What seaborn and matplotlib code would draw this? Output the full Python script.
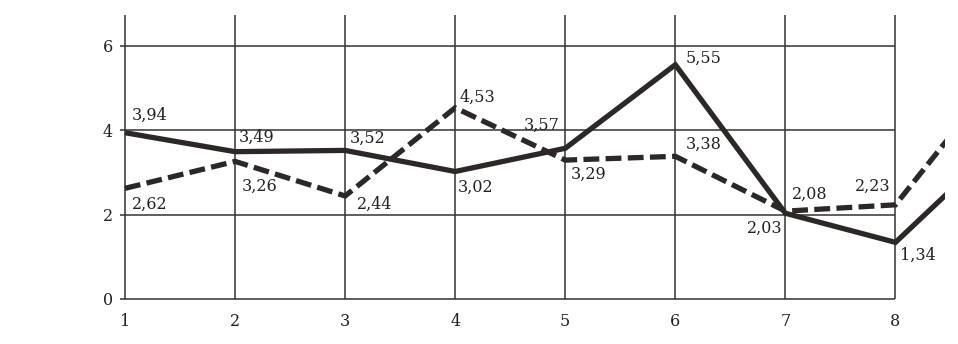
import matplotlib
matplotlib.use("Agg")
import matplotlib.pyplot as plt
import seaborn as sns
import pandas as pd

# ---- data ----
categories = [1, 2, 3, 4, 5, 6, 7, 8, 9]          # 9th point is cut off by the page edge
solid_values = [3.94, 3.49, 3.52, 3.02, 3.57, 5.55, 2.03, 1.34, 3.8]
dashed_values = [2.62, 3.26, 2.44, 4.53, 3.29, 3.38, 2.08, 2.23, 5.5]
x_tick_labels = ["1", "2", "3", "4", "5", "6", "7", "8"]
y_ticks = [0, 2, 4, 6]
y_tick_labels = ["0", "2", "4", "6"]
label_count = 8  # labelled points

# label offsets in pixels (dx, dy, ha, va)
solid_offsets = [(7, 9, "left", "bottom"), (4, 6, "left", "bottom"), (5, 4, "left", "bottom"),
                 (3, -7, "left", "top"), (-6, 14, "right", "bottom"), (10, -2, "left", "bottom"),
                 (-3, -7, "right", "top"), (5, -4, "left", "top")]
dashed_offsets = [(7, -7, "left", "top"), (7, -16, "left", "top"), (12, 0, "left", "top"),
                  (4, 2, "left", "bottom"), (6, -6, "left", "top"), (10, 3, "left", "bottom"),
                  (7, 8, "left", "bottom"), (-5, 10, "right", "bottom")]

df = pd.DataFrame({
    "x": categories * 2,
    "y": solid_values + dashed_values,
    "series": ["solid"] * len(categories) + ["dashed"] * len(categories),
})

sns.set_theme(style="white")
plt.rcParams["font.family"] = ["DejaVu Serif"]

W, H = 958, 344
fig = plt.figure(figsize=(W / 100, H / 100), dpi=100)
fig.patch.set_facecolor("white")

x_lo, x_hi = 0.955, 8.45
y_lo, y_hi = -0.05, 6.73
ax = fig.add_axes([120 / W, (H - 301) / H, 825 / W, 286 / H])
ax.set_facecolor("white")

line_color = "#2d2828"
grid_color = "#333333"

# grid drawn only within the data extent
ax.hlines(y_ticks, x_lo, max(categories[:label_count]), color=grid_color, lw=1.1, zorder=1)
ax.vlines(categories[:label_count], 0, y_hi, color=grid_color, lw=1.1, zorder=1)

sns.lineplot(data=df, x="x", y="y", style="series", ax=ax,
             dashes={"solid": "", "dashed": (3.0, 1.2)},
             color=line_color, linewidth=3.8, legend=False, zorder=3)
for ln in ax.get_lines():
    ln.set_dash_capstyle("butt")
    ln.set_solid_capstyle("butt")
    ln.set_solid_joinstyle("miter")
    ln.set_dash_joinstyle("miter")

for vals, offs in ((solid_values, solid_offsets), (dashed_values, dashed_offsets)):
    for i in range(label_count):
        dx, dy, ha, va = offs[i]
        ax.annotate(f"{vals[i]:.2f}".replace(".", ","), (categories[i], vals[i]),
                    xytext=(dx, dy), textcoords="offset pixels", ha=ha, va=va,
                    fontsize=11.5, color="#222222", zorder=4)

ax.set_xlim(x_lo, x_hi)
ax.set_ylim(y_lo, y_hi)
ax.set_xticks(categories[:label_count])
ax.set_xticklabels(x_tick_labels)
ax.set_yticks(y_ticks)
ax.set_yticklabels(y_tick_labels)
ax.tick_params(axis="both", length=0, labelsize=11.5, colors="#222222")
ax.tick_params(axis="x", pad=9)
ax.tick_params(axis="y", pad=5)
ax.set_xlabel("")
ax.set_ylabel("")
for s in ax.spines.values():
    s.set_visible(False)

fig.savefig("out.png", dpi=100, facecolor="white")
